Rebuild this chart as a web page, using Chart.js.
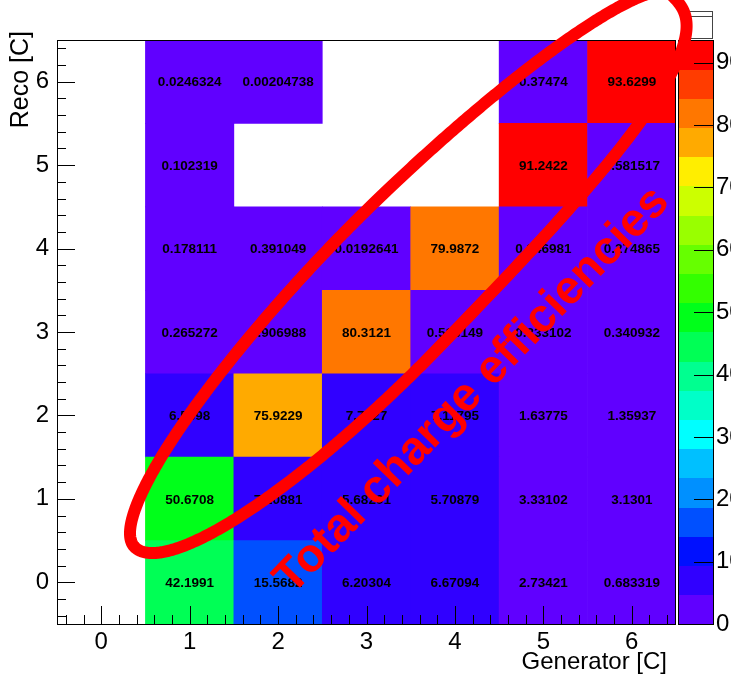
<!DOCTYPE html>
<html>
<head>
<meta charset="utf-8">
<script src="https://cdn.jsdelivr.net/npm/chart.js@4.4.0/dist/chart.umd.min.js"></script>
<style>
  html, body { margin: 0; padding: 0; background: #fff; }
</style>
</head>
<body>
<canvas id="chargeMatrix" width="731" height="675"></canvas>
<script>
// generator charge (x) and reco charge (y) bins
const genBins = [0, 1, 2, 3, 4, 5, 6];
const recoBins = [0, 1, 2, 3, 4, 5, 6];

// efficiency in % for each reco row, indexed by generator bin (null = empty bin)
const reco0 = [null, 42.1991, 15.5682, 6.20304, 6.67094, 2.73421, 0.683319];
const reco1 = [null, 50.6708, 7.20881, 5.68291, 5.70879, 3.33102, 3.1301];
const reco2 = [null, 6.5598, 75.9229, 7.7827, 7.11795, 1.63775, 1.35937];
const reco3 = [null, 0.265272, 0.906988, 80.3121, 0.515149, 0.333102, 0.340932];
const reco4 = [null, 0.178111, 0.391049, 0.0192641, 79.9872, 0.346981, 0.274865];
const reco5 = [null, 0.102319, null, null, null, 91.2422, 0.581517];
const reco6 = [null, 0.0246324, 0.00204738, null, null, 0.37474, 93.6299];
const recoRows = [reco0, reco1, reco2, reco3, reco4, reco5, reco6];

// colour axis
const zMax = 93.6299;
const zTicks = [0, 10, 20, 30, 40, 50, 60, 70, 80, 90];
const palette = ['#6000ff','#3000ff','#0010ff','#0050ff','#0090ff','#00c0ff','#00ffff','#00ffc8',
                 '#00ff90','#00ff55','#00ff1a','#33ff00','#66ff00','#99ff00','#ccff00','#ffee00',
                 '#ffaa00','#ff7700','#ff3c00','#ff0000'];

const font = '"Liberation Sans", Arial, Helvetica, sans-serif';

function colorFor(v){
  let i = Math.floor(v / zMax * palette.length);
  if (i >= palette.length) i = palette.length - 1;
  return palette[i];
}
function fmt(v){
  let s = v.toPrecision(6);
  if (s.indexOf('.') >= 0) s = s.replace(/0+$/, '').replace(/\.$/, '');
  return s;
}

const datasets = recoRows.map((row, r) => {
  const pts = [], cols = [];
  row.forEach((v, c) => {
    if (v === null) return;
    pts.push({ x: genBins[c], y: [recoBins[r] - 0.5, recoBins[r] + 0.5] });
    cols.push(colorFor(v));
  });
  return { label: 'reco ' + r, data: pts, backgroundColor: cols, borderWidth: 0,
           grouped: false, barPercentage: 1, categoryPercentage: 1 };
});

// hand-drawn looking loop round the diagonal: centre in axis units, sizes in px
function loopPath(ctx, cx, cy){
  const rot = 46 * Math.PI / 180;
  const ux = Math.cos(rot), uy = -Math.sin(rot), vx = Math.sin(rot), vy = Math.cos(rot);
  ctx.beginPath();
  for (let i = 0; i <= 720; i++) {
    const t = i / 720 * 2 * Math.PI;
    const c = Math.cos(t), s = Math.sin(t);
    const right = c >= 0, lower = s >= 0;
    const n = right ? (lower ? 3 : 1.8) : 2;
    const q = (right ? 410 : 360) * Math.sign(c) * Math.pow(Math.abs(c), 2 / n);
    const p = (lower ? 80 : 68) * Math.sign(s) * Math.pow(Math.abs(s), 2 / n);
    const px = cx + q * ux + p * vx, py = cy + q * uy + p * vy;
    if (i === 0) ctx.moveTo(px, py); else ctx.lineTo(px, py);
  }
  ctx.closePath();
}

const rootStyle = {
  id: 'rootStyle',
  afterDatasetsDraw(chart){
    const { ctx, chartArea: a, scales: { x, y } } = chart;
    ctx.save();
    // bin contents
    ctx.font = 'bold 13.5px ' + font;
    ctx.fillStyle = '#000';
    ctx.textAlign = 'center';
    ctx.textBaseline = 'middle';
    recoRows.forEach((row, r) => row.forEach((v, c) => {
      if (v === null) return;
      ctx.fillText(fmt(v), x.getPixelForValue(genBins[c]), y.getPixelForValue(recoBins[r]) + 1);
    }));
    // ticks inside the frame
    ctx.strokeStyle = '#000';
    ctx.lineWidth = 1;
    ctx.beginPath();
    for (let k = -2; k <= 32; k++) {
      const len = k % 5 === 0 ? 18 : 9;
      const px = Math.round(x.getPixelForValue(k / 5)) + 0.5;
      ctx.moveTo(px, a.bottom); ctx.lineTo(px, a.bottom - len);
      const py = Math.round(y.getPixelForValue(k / 5)) + 0.5;
      ctx.moveTo(a.left, py); ctx.lineTo(a.left + len, py);
    }
    ctx.stroke();
    ctx.strokeRect(a.left + 0.5, a.top + 0.5, a.right - a.left - 1, a.bottom - a.top);
    ctx.restore();
  },
  afterDraw(chart){
    const { ctx, chartArea: a, scales: { x, y, z } } = chart;
    ctx.save();
    // colour palette
    const bl = a.right + 2, bw = 35;
    palette.forEach((c, i) => {
      const top = z.getPixelForValue((i + 1) * zMax / palette.length);
      const bot = z.getPixelForValue(i * zMax / palette.length);
      ctx.fillStyle = c;
      ctx.fillRect(bl, Math.floor(top), bw, Math.ceil(bot) - Math.floor(top));
    });
    ctx.strokeStyle = '#000';
    ctx.lineWidth = 1;
    ctx.strokeRect(bl + 0.5, a.top + 0.5, bw, a.bottom - a.top);
    ctx.beginPath();
    zTicks.forEach(t => {
      const py = Math.round(z.getPixelForValue(t)) + 0.5;
      ctx.moveTo(bl + bw, py); ctx.lineTo(bl + bw - 19, py);
    });
    ctx.stroke();
    // small stats box
    ctx.fillStyle = '#fff';
    ctx.fillRect(bl + 3, 11, 31, 27);
    ctx.strokeStyle = '#444';
    ctx.strokeRect(bl + 3.5, 11.5, 31, 27);
    ctx.beginPath(); ctx.moveTo(bl + 4, 16.5); ctx.lineTo(bl + 34, 16.5); ctx.stroke();
    // axis titles
    ctx.fillStyle = '#000';
    ctx.font = '24px ' + font;
    ctx.textAlign = 'right';
    ctx.textBaseline = 'alphabetic';
    ctx.fillText('Generator [C]', a.right - 9, 669);
    ctx.save();
    ctx.translate(28, 31);
    ctx.rotate(-Math.PI / 2);
    ctx.font = '25px ' + font;
    ctx.fillText('Reco [C]', 0, 0);
    ctx.restore();
    // red annotation
    ctx.strokeStyle = '#ff0000';
    ctx.lineWidth = 12;
    ctx.lineJoin = 'round';
    loopPath(ctx, x.getPixelForValue(3.207), y.getPixelForValue(3.525));
    ctx.stroke();
    ctx.save();
    ctx.translate(x.getPixelForValue(2.16), y.getPixelForValue(-0.16));
    ctx.rotate(-46 * Math.PI / 180);
    ctx.fillStyle = '#ff0000';
    ctx.font = 'bold 47px ' + font;
    ctx.textAlign = 'left';
    ctx.fillText('Total charge efficiencies', 0, 0);
    ctx.restore();
    ctx.restore();
  }
};

const tickFont = { family: font, size: 24 };
const noPadV = s => { s.paddingTop = 0; s.paddingBottom = 0; };

new Chart(document.getElementById('chargeMatrix'), {
  type: 'bar',
  data: { datasets: datasets },
  options: {
    responsive: false,
    animation: false,
    layout: { padding: { top: 40, left: 0, right: 0, bottom: 0 } },
    plugins: { legend: { display: false }, tooltip: { enabled: false } },
    scales: {
      x: {
        type: 'linear', min: -0.5, max: 6.5, offset: false,
        grid: { display: false, drawTicks: false }, border: { display: false },
        afterBuildTicks: s => { s.ticks = genBins.map(v => ({ value: v })); },
        ticks: { font: tickFont, color: '#000', padding: 4, maxRotation: 0 },
        afterFit: s => { s.height = 51; s.paddingLeft = 0; s.paddingRight = 0; }
      },
      y: {
        type: 'linear', min: -0.5, max: 6.5,
        grid: { display: false, drawTicks: false }, border: { display: false },
        afterBuildTicks: s => { s.ticks = recoBins.map(v => ({ value: v })); },
        ticks: { font: tickFont, color: '#000', padding: 8 },
        afterFit: s => { s.width = 57; noPadV(s); }
      },
      z: {
        type: 'linear', axis: 'y', position: 'right', min: 0, max: zMax,
        grid: { display: false, drawTicks: false }, border: { display: false },
        afterBuildTicks: s => { s.ticks = zTicks.map(v => ({ value: v })); },
        ticks: { font: tickFont, color: '#000', padding: 40 },
        afterFit: s => { s.width = 55; noPadV(s); }
      }
    }
  },
  plugins: [rootStyle]
});
</script>
</body>
</html>
